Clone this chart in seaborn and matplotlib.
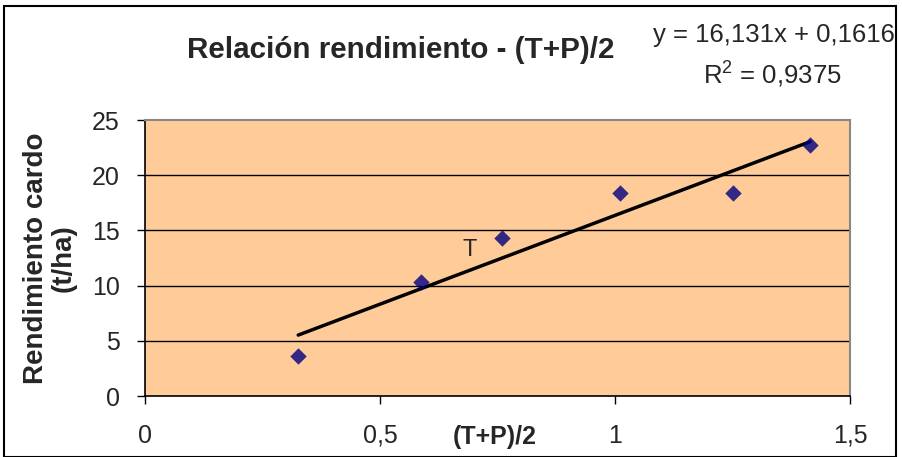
import matplotlib
matplotlib.use("Agg")
import matplotlib.pyplot as plt
import seaborn as sns
import numpy as np
import pandas as pd
from matplotlib.patches import Rectangle

# Data
tp_half = [0.326, 0.587, 0.760, 1.011, 1.251, 1.415]
rendimiento = [3.6, 10.3, 14.3, 18.4, 18.4, 22.7]
x_ticks = [0, 0.5, 1, 1.5]
x_tick_labels = ["0", "0,5", "1", "1,5"]
y_ticks = [0, 5, 10, 15, 20, 25]
y_tick_labels = ["0", "5", "10", "15", "20", "25"]
title = "Relación rendimiento - (T+P)/2"
eq_text = "y = 16,131x + 0,1616"
r2_text = "R$^2$ = 0,9375"

df = pd.DataFrame({"x": tp_half, "y": rendimiento})

sns.set_style("white")
plt.rcParams['font.family'] = ['Liberation Sans', 'DejaVu Sans']
plt.rcParams['font.size'] = 18
plt.rcParams['mathtext.fontset'] = 'custom'
plt.rcParams['mathtext.rm'] = 'Liberation Sans'
plt.rcParams['xtick.labelsize'] = 18
plt.rcParams['ytick.labelsize'] = 18

fig = plt.figure(figsize=(9.03, 4.57), dpi=100)
ax = fig.add_axes([145/903, 1-396/457, (850-145)/903, (396-120)/457])
ax.set_facecolor("#FFCC99")

for yv in y_ticks[1:-1]:
    ax.axhline(yv, color="black", lw=1.0, zorder=1)

sns.regplot(data=df, x="x", y="y", ax=ax, ci=None, truncate=True, marker="D",
            scatter_kws=dict(s=70, color="#000080", zorder=3, linewidths=0),
            line_kws=dict(color="black", lw=2.5, zorder=2))

ax.set_xlim(0, 1.5)
ax.set_ylim(0, 25)
ax.set_xticks(x_ticks, x_tick_labels, fontsize=18)
ax.set_yticks(y_ticks, y_tick_labels, fontsize=18)
ax.xaxis.set_tick_params(direction="out", length=6, width=1, color="black",
                         bottom=True, labelsize=18, pad=14)
ax.yaxis.set_tick_params(direction="out", length=6, width=1, color="black",
                         left=True, labelsize=18, pad=12)
for s in ["top", "right"]:
    ax.spines[s].set_color("#888888")
    ax.spines[s].set_linewidth(1.5)
for s in ["left", "bottom"]:
    ax.spines[s].set_color("black")
    ax.spines[s].set_linewidth(1.2)

ax.set_xlabel("")
ax.set_ylabel("")
fig.text(50/903, 1-258/457, "Rendimiento cardo\n(t/ha)", fontsize=20, fontweight="bold",
         rotation=90, ha="center", va="center", linespacing=1.05)

ax.text(0.69, 13.2, "T", fontsize=17, ha="center", va="center")

fig.text(401/903, 1-50/457, title, fontsize=21.3, fontweight="bold", ha="center", va="center")
fig.text(895/903, 1-35/457, eq_text, fontsize=18.5, ha="right", va="center")
fig.text(842/903, 1-74/457, r2_text, fontsize=18.5, ha="right", va="center")
fig.text(495/903, 1-437/457, "(T+P)/2", fontsize=18, fontweight="bold", ha="center", va="center")

fig.patches.append(Rectangle((4/903, 0), 892/903, 1-6/457, transform=fig.transFigure,
                             fill=False, edgecolor="black", lw=1.5))

fig.savefig("out.png", dpi=100)
